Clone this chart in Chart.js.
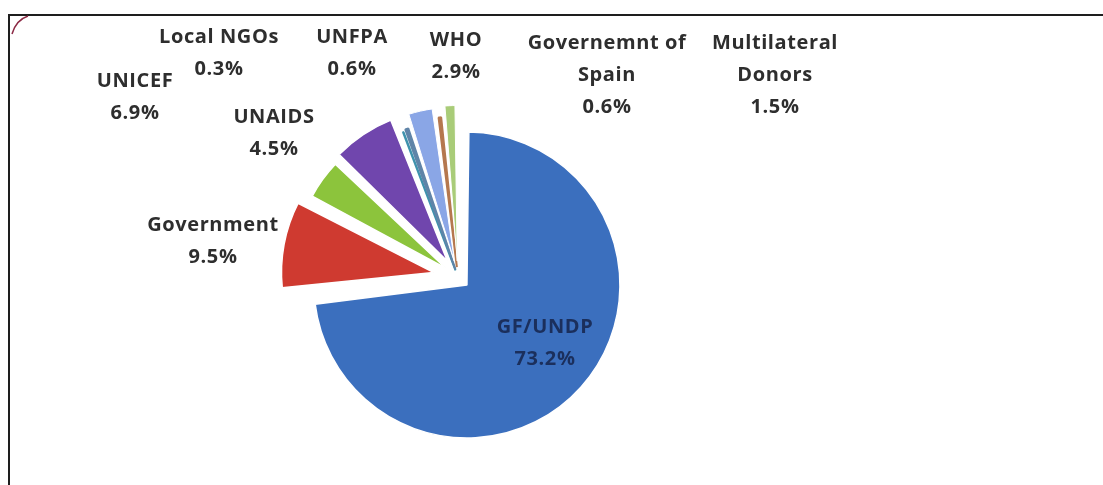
<!DOCTYPE html>
<html>
<head>
<meta charset="utf-8">
<script src="https://cdn.jsdelivr.net/npm/chart.js@4/dist/chart.umd.min.js"></script>
<style>
  body { margin: 0; background: #fff; }
  #grafico { display: block; }
</style>
</head>
<body>
<canvas id="grafico" width="1103" height="485"></canvas>
<script>
// Dados do gráfico
const rotulos = ['GF/UNDP', 'Government', 'UNAIDS', 'UNICEF', 'Local NGOs', 'UNFPA', 'WHO', ['Governemnt of', 'Spain'], ['Multilateral', 'Donors']];
const percentuais = [73.2, 9.5, 4.5, 6.9, 0.3, 0.6, 2.9, 0.6, 1.5];

// Cores das fatias
const cores = ['#3b6fbe', '#cf3a30', '#8cc43c', '#7046ad', '#3f92ad', '#5f84a8', '#8aa6e6', '#b5784e', '#a9cc78'];

// Posição dos rótulos em relação ao centro da pizza (dx, dy da primeira linha)
const posRotulos = [[87, 50], [-245, -52], [-184, -160], [-323, -196], [-239, -240], [-106, -240], [-2, -237], [149, -234], [317, -234]];

// Plugin para a moldura do gráfico
const moldura = {
    id: 'moldura',
    beforeDraw(chart) {
        const ctx = chart.ctx;
        ctx.save();
        ctx.strokeStyle = '#1e1e1e';
        ctx.lineWidth = 2;
        ctx.beginPath();
        ctx.moveTo(8, 15);
        ctx.lineTo(1103, 15);
        ctx.moveTo(9, 15);
        ctx.lineTo(9, 485);
        ctx.stroke();
        // cantinho arredondado bordô
        ctx.strokeStyle = '#8c2a45';
        ctx.lineWidth = 1.5;
        ctx.beginPath();
        ctx.moveTo(12, 34);
        ctx.quadraticCurveTo(16, 20, 28, 16);
        ctx.stroke();
        ctx.restore();
    }
};

// Plugin para escrever os rótulos das fatias
const rotulosFatias = {
    id: 'rotulosFatias',
    afterDatasetsDraw(chart) {
        const ctx = chart.ctx;
        const meta = chart.getDatasetMeta(0);
        ctx.save();
        ctx.textAlign = 'center';
        ctx.textBaseline = 'middle';
        ctx.font = 'bold 20px "Open Sans"';
        ctx.letterSpacing = '0.6px';
        meta.data.forEach((arco, i) => {
            const linhas = [].concat(chart.data.labels[i]);
            linhas.push(chart.data.datasets[0].data[i].toFixed(1) + '%');
            const x = arco.x + posRotulos[i][0];
            const y = arco.y + posRotulos[i][1];
            ctx.fillStyle = i === 0 ? '#1b2f5c' : '#2e2e2e';
            linhas.forEach((txt, k) => {
                ctx.fillText(txt, x, y + k * 32);
            });
        });
        ctx.restore();
    }
};

// fatias muito finas levam borda da própria cor para não sumirem
const bordas = cores.map((c, i) => [4, 5, 7].includes(i) ? c : '#ffffff');

const config = {
    type: 'pie',
    data: {
        labels: rotulos,
        datasets: [{
            data: percentuais,
            backgroundColor: cores,
            borderColor: bordas,
            borderWidth: [1.5, 1.5, 1.5, 1.5, 2, 2, 1, 2, 1],
            // o Chart.js desloca a fatia offset/4 e ainda aumenta o raio dela,
            // por isso os valores diferentes para cada fatia
            offset: [48, 100, 60, 76, 28, 32, 64, 40, 64],
            radius: 141
        }]
    },
    options: {
        responsive: false,
        animation: false,
        layout: {
            padding: { left: 0, right: 187, top: 69, bottom: 0 }
        },
        plugins: {
            legend: { display: false },
            tooltip: { enabled: false }
        }
    },
    plugins: [moldura, rotulosFatias]
};

let meuGrafico = new Chart(document.getElementById('grafico'), config);
</script>
</body>
</html>
